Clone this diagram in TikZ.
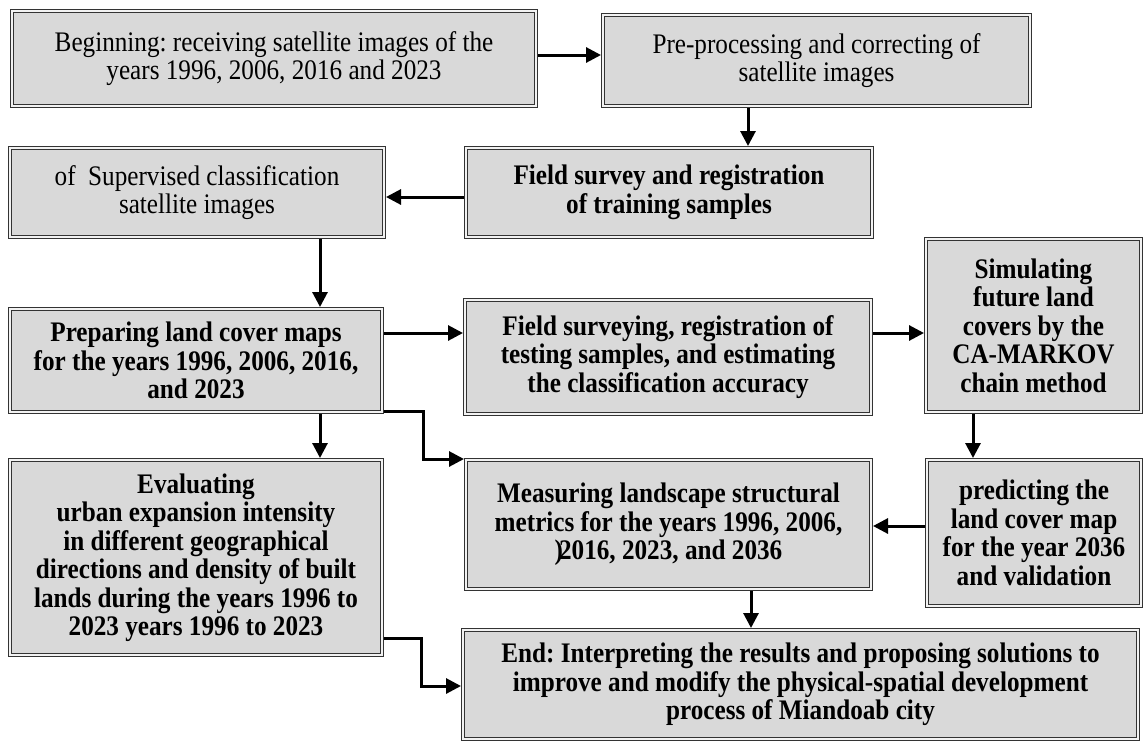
\documentclass[tikz,border=0pt]{standalone}
\usepackage{fontspec}
\setmainfont{Liberation Serif}[FakeStretch=0.89]
\usepackage{xcolor}
\usetikzlibrary{arrows.meta, calc}
\definecolor{boxgray}{RGB}{217,217,217}
\frenchspacing

\begin{document}
\begin{tikzpicture}[x=1pt,y=-1pt,font=\fontsize{28.3}{28.5}\selectfont,>={Triangle[length=15pt,width=15pt]},
box/.style={draw=black!80,line width=1pt,double=gray!10,double distance=1.6pt,fill=boxgray,inner sep=0pt,outer sep=1.8pt,align=center},
bbox/.style={box,font=\fontsize{28.3}{28.5}\selectfont\bfseries},arr/.style={->,line width=3pt}]
\useasboundingbox (0,0) rectangle (1145,742);
\node[box,minimum width=524.4pt,minimum height=95.4pt] (b1) at (274,58.5) {Beginning: receiving satellite images of the\\years 1996, 2006, 2016 and 2023};
\node[box,minimum width=427.4pt,minimum height=91.4pt] (b2) at (816.5,60.5) {Pre-processing and correcting of\\satellite images};
\node[bbox,minimum width=406.4pt,minimum height=89.4pt] (b3) at (669,192.5) {Field survey and registration\\of training samples};
\node[box,minimum width=374.4pt,minimum height=89.4pt] (b4) at (197,192.5) {of\ \ Supervised classification\\satellite images};
\node[bbox,minimum width=372.4pt,minimum height=103.4pt] (b5) at (196,360.5) {Preparing land cover maps\\for the years 1996, 2006, 2016,\\and 2023};
\node[bbox,minimum width=406.4pt,minimum height=114.4pt] (b6) at (668,357) {Field surveying, registration of\\testing samples, and estimating\\the classification accuracy};
\node[bbox,minimum width=215.4pt,minimum height=173.4pt] (b7) at (1033.5,325.5) {Simulating\\future land\\covers by the\\CA-MARKOV\\chain method};
\node[bbox,minimum width=214.4pt,minimum height=146.4pt] (b8) at (1034,533) {predicting the\\land cover map\\for the year 2036\\and validation};
\node[bbox,minimum width=372.4pt,minimum height=195.4pt] (b9) at (196,557.5) {Evaluating\\urban expansion intensity\\in different geographical\\directions and density of built\\lands during the years 1996 to\\2023 years 1996 to 2023};
\node[bbox,minimum width=405.4pt,minimum height=129.4pt] (b10) at (668.5,524.5) {Measuring landscape structural\\metrics for the years 1996, 2006,\\)\kern-4pt2016, 2023, and 2036};
\node[bbox,minimum width=675.4pt,minimum height=109.4pt] (b11) at (800.5,684.5) {End: Interpreting the results and proposing solutions to\\improve and modify the physical-spatial development\\process of Miandoab city};
\coordinate (a12) at (0,55);\coordinate (a23) at (748,0);\coordinate (a34) at (0,197);\coordinate (a45) at (320,0);\coordinate (a567) at (0,333);
\coordinate (a78) at (973,0);\coordinate (a810) at (0,526);\coordinate (a1011) at (751,0);
\coordinate (e1) at (423,411);\coordinate (e2) at (423,459);\coordinate (e3) at (421,638);\coordinate (e4) at (421,686);
\draw[arr] (b1.east |- a12)--(b2.west |- a12);\draw[arr] (b2.south -| a23)--(b3.north -| a23);\draw[arr] (b3.west |- a34)--(b4.east |- a34);
\draw[arr] (b4.south -| a45)--(b5.north -| a45);\draw[arr] (b5.south -| a45)--(b9.north -| a45);
\draw[arr] (b5.east |- a567)--(b6.west |- a567);\draw[arr] (b6.east |- a567)--(b7.west |- a567);
\draw[arr] (b7.south -| a78)--(b8.north -| a78);\draw[arr] (b8.west |- a810)--(b10.east |- a810);\draw[arr] (b10.south -| a1011)--(b11.north -| a1011);
\draw[arr] (b5.east |- e1)--(e1)--(e2)--(b10.west |- e2);\draw[arr] (b9.east |- e3)--(e3)--(e4)--(b11.west |- e4);
\end{tikzpicture}
\end{document}
